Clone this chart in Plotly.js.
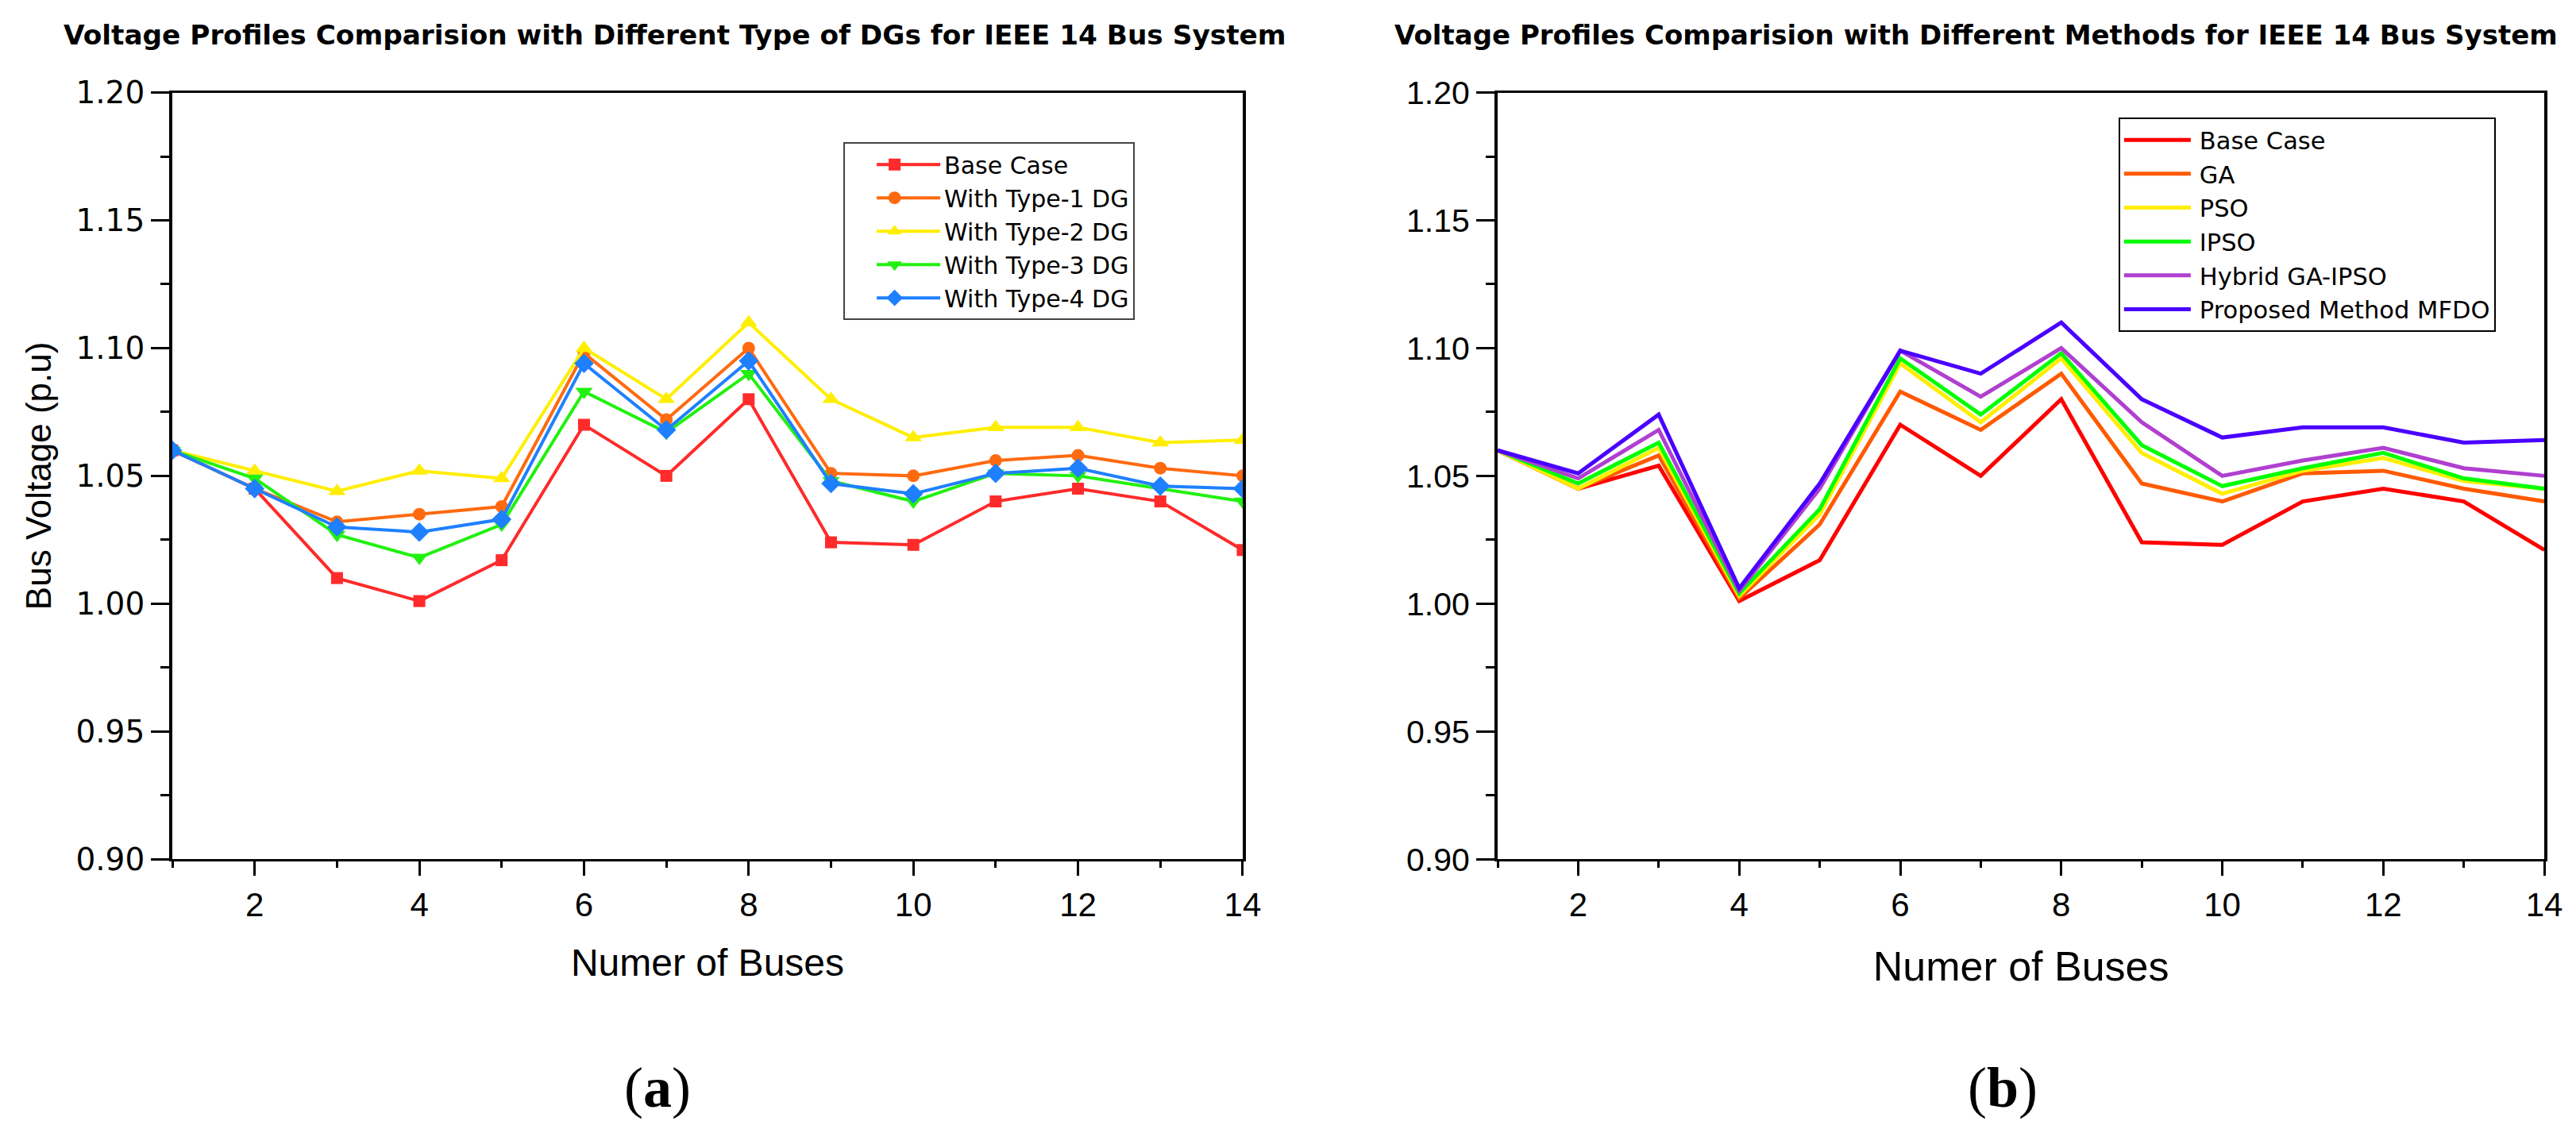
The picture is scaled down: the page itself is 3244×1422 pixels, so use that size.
<!DOCTYPE html>
<html>
<head>
<meta charset="utf-8">
<script src="https://cdn.plot.ly/plotly-3.0.1.min.js"></script>
<style>html,body{margin:0;padding:0;background:#fff;}#chart{width:3244px;height:1422px;}</style>
</head>
<body>
<div id="chart"></div>
<script>
// ---- data ----
const buses = [1,2,3,4,5,6,7,8,9,10,11,12,13,14];

// (a) different DG types
const dgNames = ["Base Case","With Type-1 DG","With Type-2 DG","With Type-3 DG","With Type-4 DG"];
const dgBase  = [1.060,1.045,1.010,1.001,1.017,1.070,1.050,1.080,1.024,1.023,1.040,1.045,1.040,1.021];
const dgType1 = [1.060,1.045,1.032,1.035,1.038,1.098,1.072,1.100,1.051,1.050,1.056,1.058,1.053,1.050];
const dgType2 = [1.060,1.052,1.044,1.052,1.049,1.100,1.080,1.110,1.080,1.065,1.069,1.069,1.063,1.064];
const dgType3 = [1.060,1.049,1.027,1.018,1.031,1.083,1.067,1.090,1.048,1.040,1.051,1.050,1.045,1.040];
const dgType4 = [1.060,1.045,1.030,1.028,1.033,1.094,1.068,1.095,1.047,1.043,1.051,1.053,1.046,1.045];

// (b) different methods
const mNames  = ["Base Case","GA","PSO","IPSO","Hybrid GA-IPSO","Proposed Method MFDO"];
const mBase   = [1.060,1.045,1.054,1.001,1.017,1.070,1.050,1.080,1.024,1.023,1.040,1.045,1.040,1.021];
const mGA     = [1.060,1.045,1.058,1.002,1.031,1.083,1.068,1.090,1.047,1.040,1.051,1.052,1.045,1.040];
const mPSO    = [1.060,1.045,1.061,1.003,1.035,1.094,1.071,1.096,1.059,1.043,1.052,1.057,1.048,1.045];
const mIPSO   = [1.060,1.047,1.063,1.004,1.037,1.096,1.074,1.098,1.062,1.046,1.053,1.059,1.049,1.045];
const mHybrid = [1.060,1.049,1.068,1.005,1.045,1.099,1.081,1.100,1.071,1.050,1.056,1.061,1.053,1.050];
const mMFDO   = [1.060,1.051,1.074,1.006,1.047,1.099,1.090,1.110,1.080,1.065,1.069,1.069,1.063,1.064];

const yTicks = [0.90,0.95,1.00,1.05,1.10,1.15,1.20];

// ---- styles ----
const dgColors  = ["#FF2A2A","#FF6A10","#FFEE00","#22F010","#1E80FF"];
const dgSymbols = ["square","circle","triangle-up","triangle-down","diamond"];
const dgSizes   = [15,16,19,19,19];
const mColors   = ["#FF0000","#FF5A00","#FFEE00","#00FF00","#B040D0","#4A00FF"];

const dgSeries = [dgBase,dgType1,dgType2,dgType3,dgType4];
const mSeries  = [mBase,mGA,mPSO,mIPSO,mHybrid,mMFDO];

const traces = [];
dgSeries.forEach((ys,i)=>{
  traces.push({x:buses,y:ys,name:dgNames[i],type:"scatter",mode:"lines+markers",
    xaxis:"x",yaxis:"y",legend:"legend",
    line:{color:dgColors[i],width:4},
    marker:{symbol:dgSymbols[i],size:dgSizes[i],color:dgColors[i]}});
});
mSeries.forEach((ys,i)=>{
  traces.push({x:buses,y:ys,name:mNames[i],type:"scatter",mode:"lines",
    xaxis:"x2",yaxis:"y2",legend:"legend2",
    line:{color:mColors[i],width:5}});
});

const tickFont = {family:"Liberation Sans, Arial, sans-serif",size:42,color:"#000"};
function yAx(anchor,font){
  return {anchor:anchor,domain:[0.239,0.918],range:[0.90,1.20],tickvals:yTicks,tickformat:".2f",
    showline:true,mirror:true,linecolor:"#000",linewidth:4,
    ticks:"outside",ticklen:23,tickwidth:3,tickcolor:"#000",
    minor:{dtick:0.025,ticks:"outside",ticklen:11,tickwidth:3,tickcolor:"#000"},
    showgrid:false,zeroline:false,tickfont:font};
}
function xAx(anchor,domain,titleSize,standoff){
  return {anchor:anchor,domain:domain,range:[1,14],tickmode:"linear",tick0:0,dtick:2,
    showline:true,mirror:true,linecolor:"#000",linewidth:3,
    ticks:"outside",ticklen:18,tickwidth:3,tickcolor:"#000",
    minor:{tick0:1,dtick:1,ticks:"outside",ticklen:8,tickwidth:3,tickcolor:"#000"},
    showgrid:false,zeroline:false,tickfont:tickFont,
    title:{text:"Numer of Buses",standoff:standoff,font:{family:"Liberation Sans, Arial, sans-serif",size:titleSize,color:"#000"}}};
}

const ya = yAx("x",{family:"DejaVu Sans, sans-serif",size:39,color:"#000"});
ya.title = {text:"Bus Voltage (p.u)",standoff:18,font:{family:"Liberation Sans, Arial, sans-serif",size:44,color:"#000"}};
const ya2 = yAx("x2",{family:"Liberation Sans, Arial, sans-serif",size:41,color:"#000"});

const layout = {
  width:3244,height:1422,
  margin:{l:0,r:0,t:0,b:0},
  paper_bgcolor:"#fff",plot_bgcolor:"#fff",
  showlegend:true,
  xaxis:xAx("y",[0.0669,0.4824],48,34),
  yaxis:ya,
  xaxis2:xAx("y2",[0.5814,0.9877],52,38),
  yaxis2:ya2,
  legend:{x:0.3274,y:0.874,xanchor:"left",yanchor:"top",bgcolor:"#fff",
    bordercolor:"#444",borderwidth:2,itemwidth:115,tracegroupgap:0,
    font:{family:"DejaVu Sans, sans-serif",size:30,color:"#000"}},
  legend2:{x:0.8224,y:0.896,xanchor:"left",yanchor:"top",bgcolor:"#fff",
    bordercolor:"#000",borderwidth:2,itemwidth:90,tracegroupgap:0,
    font:{family:"DejaVu Sans, sans-serif",size:30.5,color:"#000"}},
  annotations:[
    {text:"<b>Voltage Profiles Comparision with Different Type of DGs for IEEE 14 Bus System</b>",
     xref:"paper",yref:"paper",x:0.262,y:1-44/1422,xanchor:"center",yanchor:"middle",showarrow:false,
     font:{family:"DejaVu Sans, sans-serif",size:34.3,color:"#000"}},
    {text:"<b>Voltage Profiles Comparision with Different Methods for IEEE 14 Bus System</b>",
     xref:"paper",yref:"paper",x:0.767,y:1-44/1422,xanchor:"center",yanchor:"middle",showarrow:false,
     font:{family:"DejaVu Sans, sans-serif",size:34,color:"#000"}},
    {text:"(<b>a</b>)",xref:"paper",yref:"paper",x:828/3244,y:1-1370/1422,xanchor:"center",yanchor:"middle",showarrow:false,
     font:{family:"Liberation Serif, serif",size:72,color:"#000"}},
    {text:"(<b>b</b>)",xref:"paper",yref:"paper",x:2522/3244,y:1-1370/1422,xanchor:"center",yanchor:"middle",showarrow:false,
     font:{family:"Liberation Serif, serif",size:72,color:"#000"}}
  ]
};

Plotly.newPlot("chart",traces,layout,{staticPlot:true,displayModeBar:false}).then(function(){
  // lengthen legend line samples to match the reference
  document.querySelectorAll("g.legend g.legendlines path").forEach(p=>p.setAttribute("d","M40,0h80"));
  document.querySelectorAll("g.legend g.legendpoints path.point").forEach(p=>p.setAttribute("transform","translate(80,0)"));
  document.querySelectorAll("g.legend2 g.legendlines path").forEach(p=>p.setAttribute("d","M5,0h84"));
});
</script>
</body>
</html>
